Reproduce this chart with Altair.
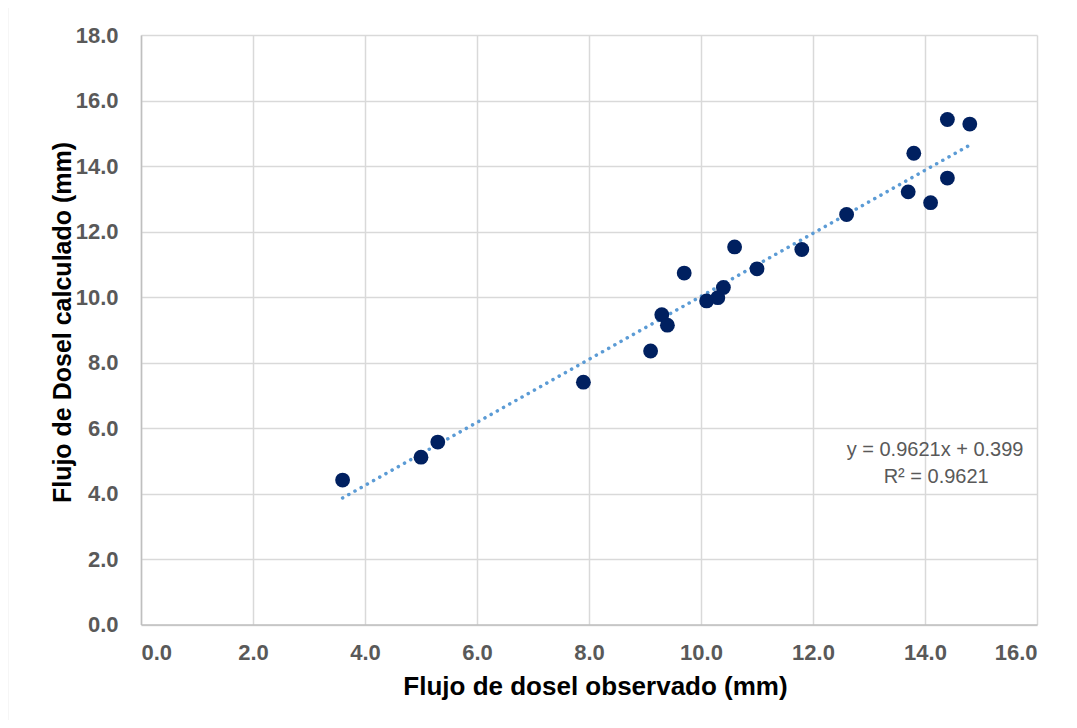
import altair as alt
import pandas as pd

# Observed vs calculated canopy flux (mm)
obs = [3.6, 5.0, 5.3, 7.9, 9.1, 9.3, 9.4, 9.7, 10.1, 10.3, 10.4, 10.6, 11.0,
       11.8, 12.6, 13.7, 13.8, 14.1, 14.4, 14.4, 14.8]
calc = [4.41, 5.11, 5.57, 7.40, 8.35, 9.46, 9.14, 10.73, 9.88, 9.98, 10.29, 11.53, 10.86,
        11.45, 12.52, 13.21, 14.39, 12.88, 13.63, 15.42, 15.28]

slope = 0.9621
intercept = 0.399
eq_lines = ["y = 0.9621x + 0.399", "R² = 0.9621"]
eq_x = [14.18, 14.2]
eq_y = [5.32, 4.50]

df = pd.DataFrame({"x": obs, "y": calc})
xt = [min(obs), max(obs)]
trend = pd.DataFrame({"x": xt, "y": [slope * v + intercept for v in xt]})
ann = pd.DataFrame({"x": eq_x, "y": eq_y, "t": eq_lines})

xs = alt.Scale(domain=[0, 16], nice=False)
ys = alt.Scale(domain=[0, 18], nice=False)

x_axis = alt.Axis(values=list(range(0, 17, 2)), format=".1f", title="Flujo de dosel observado (mm)",
                  labelPadding=18, titleX=454, titleY=70, titleBaseline="alphabetic",
                  titleFontSize=26)
y_axis = alt.Axis(values=list(range(0, 19, 2)), format=".1f", title="Flujo de Dosel calculado (mm)",
                  labelPadding=23, titleX=-71, titleY=287, titleBaseline="alphabetic",
                  titleAlign="center", titleAngle=-90, titleFontSize=25)

frame = alt.Chart(pd.DataFrame({"a": [0]})).mark_rect(
    fill=None, stroke="#D9D9D9", strokeWidth=1.5, clip=False
).encode(x=alt.value(-133.5), x2=alt.value(960), y=alt.value(-28), y2=alt.value(720))

pts = alt.Chart(df).mark_circle(size=220, color="#002060", opacity=1).encode(
    x=alt.X("x:Q", scale=xs, axis=x_axis),
    y=alt.Y("y:Q", scale=ys, axis=y_axis),
)

line = alt.Chart(trend).mark_line(
    color="#5B9BD5", strokeWidth=3.5, strokeDash=[0.1, 7], strokeCap="round"
).encode(x=alt.X("x:Q", scale=xs), y=alt.Y("y:Q", scale=ys))

txt = alt.Chart(ann).mark_text(
    font="Liberation Sans", fontSize=20, color="#595959", align="center", baseline="middle"
).encode(x=alt.X("x:Q", scale=xs), y=alt.Y("y:Q", scale=ys), text="t:N")

chart = alt.layer(frame, line, pts, txt).properties(
    width=896, height=589.5,
    autosize=alt.AutoSizeParams(type="none"),
    padding={"left": 133, "top": 27, "right": 32, "bottom": 95},
).configure_view(stroke=None).configure_axis(
    labelFont="Liberation Sans", labelFontWeight="bold", labelColor="#595959", labelFontSize=22,
    titleFont="Liberation Sans", titleFontWeight="bold", titleColor="#000000",
    ticks=False, gridColor="#D9D9D9", gridWidth=1.5, domainColor="#BFBFBF", domainWidth=1.5,
)

chart.save("out.html", embed_options={"renderer": "svg", "actions": False})
